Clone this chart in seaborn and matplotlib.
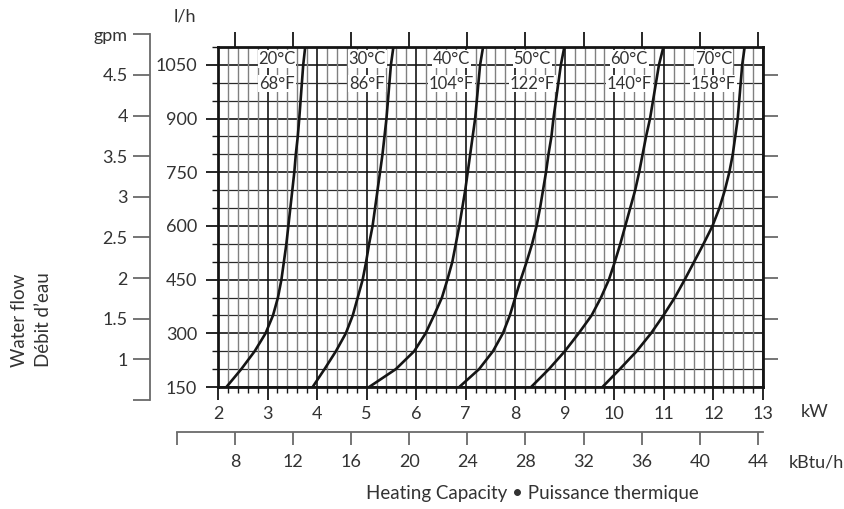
import pandas as pd
import matplotlib.pyplot as plt
from matplotlib.ticker import MultipleLocator
import seaborn as sns

# flow rates at which the curves were read (l/h)
flow_lh = [150, 200, 250, 300, 350, 400, 450, 500, 550, 600,
           650, 700, 750, 800, 850, 900, 1050, 1100]

# heating capacity (kW) for each supply temperature
kw_20 = [2.17, 2.47, 2.74, 2.96, 3.11, 3.21, 3.28, 3.33, 3.38, 3.42,
         3.46, 3.50, 3.54, 3.57, 3.61, 3.64, 3.72, 3.76]
kw_30 = [3.91, 4.15, 4.38, 4.58, 4.72, 4.82, 4.92, 4.99, 5.05, 5.12,
         5.17, 5.22, 5.27, 5.32, 5.36, 5.40, 5.49, 5.54]
kw_40 = [5.05, 5.59, 5.96, 6.19, 6.36, 6.52, 6.63, 6.73, 6.80, 6.87,
         6.93, 6.99, 7.04, 7.09, 7.14, 7.19, 7.29, 7.35]
kw_50 = [6.87, 7.27, 7.55, 7.75, 7.89, 8.00, 8.11, 8.23, 8.34, 8.43,
         8.50, 8.56, 8.62, 8.67, 8.73, 8.77, 8.92, 8.99]
kw_60 = [8.32, 8.68, 9.00, 9.28, 9.54, 9.73, 9.89, 10.01, 10.12, 10.22,
         10.32, 10.42, 10.50, 10.57, 10.64, 10.72, 10.90, 10.99]
kw_70 = [9.76, 10.11, 10.45, 10.74, 10.99, 11.22, 11.42, 11.61, 11.80, 11.98,
         12.12, 12.23, 12.32, 12.39, 12.44, 12.49, 12.58, 12.63]

temps_c = ["20°C", "30°C", "40°C", "50°C", "60°C", "70°C"]
temps_f = ["68°F", "86°F", "104°F", "122°F", "140°F", "158°F"]
# x position (kW) of the temperature tags
label_kw = [3.19, 5.01, 6.71, 8.34, 10.30, 12.0]

# axis ticks
kw_ticks = list(range(2, 14))
lh_ticks = [150, 300, 450, 600, 750, 900, 1050]
gpm_ticks = [0.5, 1, 1.5, 2, 2.5, 3, 3.5, 4, 4.5, 5]
gpm_labels = ["", "1", "1.5", "2", "2.5", "3", "3.5", "4", "4.5", "gpm"]
kbtu_ticks = [4, 8, 12, 16, 20, 24, 28, 32, 36, 40, 44]
kbtu_labels = [""] + [str(v) for v in kbtu_ticks[1:]]

# unit conversions
LH_PER_GPM = 227.12
KW_PER_KBTU = 0.29307

# long table for seaborn
curves = [kw_20, kw_30, kw_40, kw_50, kw_60, kw_70]
rows = []
for _t, _kw in zip(temps_c, curves):
    for _f, _k in zip(flow_lh, _kw):
        rows.append({"temp": _t, "kW": _k, "flow": _f})
df = pd.DataFrame(rows)

sns.set_style("white")
plt.rcParams["font.family"] = ["Lato", "DejaVu Sans"]
txt = "#333333"
gray = "#6a6a6a"
dark = "#151515"

fig = plt.figure(figsize=(8.45, 5.09), dpi=100)

# main chart box
L, B, W, H = 218 / 845, 122 / 509, 545 / 845, 340 / 509
ax = fig.add_axes([L, B, W, H])
ax.set_xlim(2, 13)
ax.set_ylim(150, 1100)

sns.lineplot(
    data=df, x="kW", y="flow", hue="temp",
    palette=[dark] * 6, sort=False, estimator=None,
    lw=1.9, legend=False, ax=ax, zorder=4
    )

# ticks
ax.set_xticks(kw_ticks)
ax.xaxis.set_minor_locator(MultipleLocator(0.2))
ax.set_yticks(lh_ticks)
ax.yaxis.set_minor_locator(MultipleLocator(50))
for s in ax.spines.values():
    s.set_linewidth(2.0)
    s.set_color(dark)
ax.tick_params(which="major", direction="out", length=9, width=1.3,
               color=dark, labelsize=13, labelcolor=txt, pad=5,
               left=True, bottom=True)
ax.tick_params(which="minor", direction="out", length=4, width=1.0,
               color=dark, left=True, bottom=True)
ax.tick_params(axis="y", which="major", pad=6)
ax.set_xlabel("")
ax.set_ylabel("")

# grid: gray verticals every 0.2 kW, dark horizontals and integer kW lines
ax.vlines(ax.xaxis.get_minorticklocs(), 0, 1,
          transform=ax.get_xaxis_transform(),
          colors="#808080", lw=1.0, zorder=0.6)
ax.yaxis.grid(True, which="minor", color="#2a2a2a", lw=0.9)
ax.xaxis.grid(True, which="major", color=dark, lw=1.2)
ax.yaxis.grid(True, which="major", color=dark, lw=1.2)

# temperature tags
for _x, _c, _f in zip(label_kw, temps_c, temps_f):
    ax.text(_x, 1066, _c, ha="center", va="center", fontsize=12, color=txt,
            bbox=dict(fc="white", ec="none", pad=0.6), zorder=3)
    ax.text(_x, 998, _f, ha="center", va="center", fontsize=12, color=txt,
            bbox=dict(fc="white", ec="none", pad=0.6), zorder=3)

# kBtu/h ticks along the top
sec_top = ax.secondary_xaxis(
    "top", functions=(lambda x: x / KW_PER_KBTU, lambda x: x * KW_PER_KBTU))
sec_top.set_xticks(kbtu_ticks[1:])
sec_top.tick_params(direction="out", length=11, width=1.3,
                    color=dark, top=True, labeltop=False)
sec_top.spines["top"].set_visible(False)

# gpm ticks along the right
sec_r = ax.secondary_yaxis(
    "right", functions=(lambda y: y / LH_PER_GPM, lambda y: y * LH_PER_GPM))
sec_r.set_yticks(gpm_ticks[1:-1])
sec_r.tick_params(direction="out", length=11, width=1.3,
                  color=gray, right=True, labelright=False)
sec_r.spines["right"].set_visible(False)

# separate gpm scale on the left
y_lo = B + (gpm_ticks[0] * LH_PER_GPM - 150) / 950 * H
y_hi = B + (gpm_ticks[-1] * LH_PER_GPM - 150) / 950 * H
ax_g = fig.add_axes([150 / 845, y_lo, 0.0001, y_hi - y_lo])
ax_g.set_ylim(gpm_ticks[0], gpm_ticks[-1])
ax_g.set_yticks(gpm_ticks, gpm_labels)
ax_g.set_xticks([])
ax_g.patch.set_alpha(0)
for _s in ["top", "right", "bottom"]:
    ax_g.spines[_s].set_visible(False)
ax_g.spines["left"].set_color(gray)
ax_g.spines["left"].set_linewidth(1.3)
ax_g.tick_params(axis="y", direction="out", length=12, width=1.3,
                 color=gray, labelsize=13, labelcolor=txt, pad=4, left=True)

# separate kBtu/h scale below
x0 = L + (kbtu_ticks[0] * KW_PER_KBTU - 2) / 11 * W
ax_k = fig.add_axes([x0, (509 - 432) / 509, L + W - x0, 0.0001])
ax_k.set_xlim(kbtu_ticks[0], 13 / KW_PER_KBTU)
ax_k.set_xticks(kbtu_ticks, kbtu_labels)
ax_k.set_yticks([])
ax_k.patch.set_alpha(0)
for _s in ["top", "right", "left"]:
    ax_k.spines[_s].set_visible(False)
ax_k.spines["bottom"].set_color(gray)
ax_k.spines["bottom"].set_linewidth(1.3)
ax_k.tick_params(axis="x", direction="out", length=9.5, width=1.3,
                 color=gray, labelsize=13, labelcolor=txt, pad=6, bottom=True)

# unit and axis captions
fig.text(185 / 845, 1 - 17 / 509, "l/h", ha="center", va="center",
         fontsize=13, color=txt)
fig.text(815 / 845, 1 - 412 / 509, "kW", ha="center", va="center",
         fontsize=13, color=txt)
fig.text(816 / 845, 1 - 463 / 509, "kBtu/h", ha="center", va="center",
         fontsize=13, color=txt)
fig.text(532 / 845, 1 - 494 / 509, "Heating Capacity \u2022 Puissance thermique",
         ha="center", va="center", fontsize=13.5, color=txt)
fig.text(20 / 845, 1 - 320 / 509, "Water flow", rotation=90,
         ha="center", va="center", fontsize=13.5, color=txt)
fig.text(44 / 845, 1 - 320 / 509, "D\u00e9bit d\u2019eau", rotation=90,
         ha="center", va="center", fontsize=13.5, color=txt)

plt.savefig("out.png", dpi=100)
